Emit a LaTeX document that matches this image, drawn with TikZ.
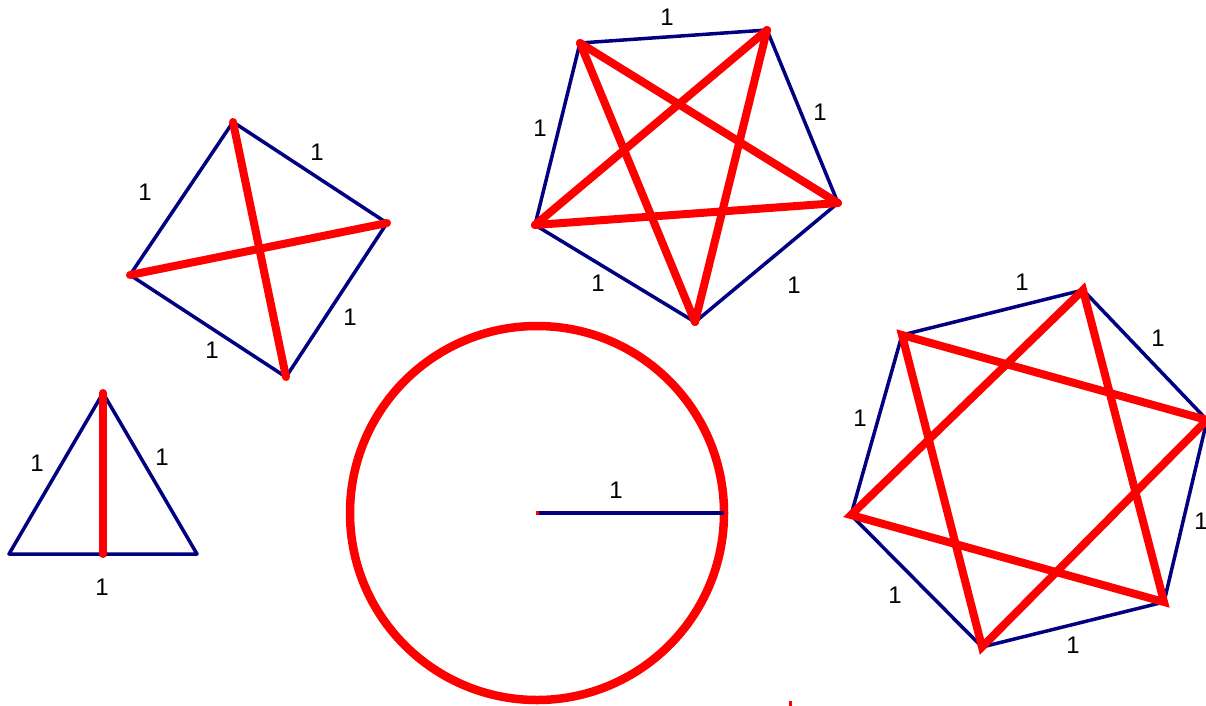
\documentclass[tikz,border=0pt]{standalone}
\usepackage{fontspec}
\setmainfont{Liberation Sans}
\definecolor{navy}{RGB}{0,0,128}
\begin{document}
\begin{tikzpicture}[x=1pt,y=-1pt,
  side/.style={draw=navy,line width=3.5pt,line join=round},
  diag/.style={draw=red,line width=8pt,line cap=round},
  lbl/.style={font=\fontsize{24}{24}\selectfont,inner sep=0pt,text=black}]
\useasboundingbox (0,0) rectangle (1206,705);
\clip (0,0) rectangle (1206,705);
% triangle
\coordinate (tA) at (103,393);
\coordinate (tB) at (9,554);
\coordinate (tC) at (197,554);
\coordinate (tM) at (103,554);
\draw[side] (tA) -- (tB) -- (tC) -- cycle;
\draw[diag] (tA) -- (tM);
\node[lbl] (t1) at (37,463) {1};
\node[lbl] (t2) at (162,457) {1};
\node[lbl] (t3) at (102,587) {1};
% square
\coordinate (sA) at (233,122);
\coordinate (sB) at (387,223);
\coordinate (sC) at (286,377);
\coordinate (sD) at (130,275);
\draw[side] (sA) -- (sB) -- (sC) -- (sD) -- cycle;
\draw[diag] (sA) -- (sC);
\draw[diag] (sD) -- (sB);
\node[lbl] (s1) at (145,192) {1};
\node[lbl] (s2) at (317,152) {1};
\node[lbl] (s3) at (350,317) {1};
\node[lbl] (s4) at (212,350) {1};
% pentagon
\coordinate (pA) at (580,43);
\coordinate (pB) at (767,30);
\coordinate (pC) at (838,203);
\coordinate (pD) at (695,322);
\coordinate (pE) at (535,225);
\draw[side] (pA) -- (pB) -- (pC) -- (pD) -- (pE) -- cycle;
\draw[diag] (pA) -- (pC);
\draw[diag] (pA) -- (pD);
\draw[diag] (pB) -- (pD);
\draw[diag] (pB) -- (pE);
\draw[diag] (pC) -- (pE);
\node[lbl] (p1) at (667,17) {1};
\node[lbl] (p2) at (820,112) {1};
\node[lbl] (p3) at (540,128) {1};
\node[lbl] (p4) at (598,283) {1};
\node[lbl] (p5) at (794,285) {1};
% circle
\coordinate (cO) at (537,513);
\coordinate (cR) at (724,513);
\draw[red,line width=8.5pt] (cO) circle[radius=187];
\draw[side] (cO) -- (cR);
\fill[red] (cO) ++(-1.5,-1.75) rectangle ++(3,3.5);
\node[lbl] (c1) at (616,490) {1};
\coordinate (dot) at (790,703);
\fill[red] (dot) ++(-1.5,-2) rectangle ++(3,5);
% hexagon
\coordinate (hA) at (902,335);
\coordinate (hB) at (1083,290);
\coordinate (hC) at (1207,420);
\coordinate (hD) at (1164,602);
\coordinate (hE) at (982,647);
\coordinate (hF) at (851,515);
\draw[side] (hA) -- (hB) -- (hC) -- (hD) -- (hE) -- (hF) -- cycle;
\draw[diag] (hA) -- (hC) -- (hE) -- cycle;
\draw[diag] (hB) -- (hD) -- (hF) -- cycle;
\node[lbl] (h1) at (1022,282) {1};
\node[lbl] (h2) at (1158,338) {1};
\node[lbl] (h3) at (860,418) {1};
\node[lbl] (h4) at (1201,521) {1};
\node[lbl] (h5) at (895,595) {1};
\node[lbl] (h6) at (1073,645) {1};
\end{tikzpicture}
\end{document}
